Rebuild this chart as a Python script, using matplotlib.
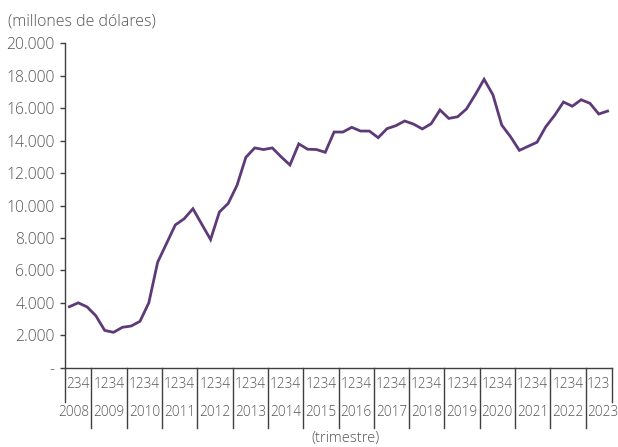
import matplotlib
matplotlib.use("Agg")
import matplotlib.pyplot as plt
from matplotlib.ticker import FuncFormatter

plt.rcParams['font.family'] = ['Open Sans', 'DejaVu Sans']
plt.rcParams['font.weight'] = 'light'

years = list(range(2008, 2024))
quarters_per_year = {2008: [2, 3, 4], 2023: [1, 2, 3]}
values = [3760, 4000, 3750, 3200, 2300, 2180, 2490, 2570, 2860, 4000,
          6500, 7650, 8800, 9180, 9800, 8850, 7900, 9600, 10130, 11250,
          12970, 13550, 13450, 13550, 13000, 12500, 13800, 13470, 13450, 13280,
          14530, 14530, 14820, 14590, 14590, 14180, 14740, 14920, 15210, 15020,
          14720, 15040, 15890, 15370, 15470, 15950, 16830, 17780, 16830, 14960,
          14240, 13400, 13650, 13900, 14860, 15560, 16380, 16120, 16520, 16300,
          15640, 15820]
y_ticks = list(range(0, 20001, 2000))
title = "(millones de dólares)"
xlabel = "(trimestre)"

text_color = "#555555"
axis_color = "#404040"
line_color = "#5E3A78"

fig = plt.figure(figsize=(6.18, 4.47), dpi=100)
ax = fig.add_axes([65/618, 1 - 367.7/447, (612-65)/618, (367.7-43.3)/447])

n = len(values)
xs = list(range(n))
ax.plot(xs, values, color=line_color, linewidth=2.0, solid_joinstyle='miter')
ax.set_xlim(-0.5, n - 0.5)
ax.set_ylim(0, 20000)
ax.set_yticks(y_ticks)

def fmt(v, pos):
    if v == 0:
        return "-"
    return f"{int(v):,}".replace(",", ".")

ax.yaxis.set_major_formatter(FuncFormatter(fmt))
ax.tick_params(axis='y', direction='out', length=3.5, width=1, color=axis_color,
               labelsize=11.3, labelcolor=text_color, pad=4)
ax.set_xticks([])
for s in ['top', 'right']:
    ax.spines[s].set_visible(False)
for s in ['left', 'bottom']:
    ax.spines[s].set_color(axis_color)
    ax.spines[s].set_linewidth(1.0)

trans = ax.get_xaxis_transform()

boundaries = [-0.5]
idx = 0
for yr in years:
    cnt = len(quarters_per_year.get(yr, [1, 2, 3, 4]))
    idx += cnt
    boundaries.append(idx - 0.5)

axh = 367.7 - 43.3
short = (402 - 367.7) / axh
long_ = (427.7 - 367.7) / axh
for j, b in enumerate(boundaries):
    L = short if j in (0, len(boundaries) - 1) else long_
    ax.plot([b, b], [0, -L], transform=trans, color=axis_color, linewidth=1.0,
            clip_on=False)

for j, yr in enumerate(years):
    left, right = boundaries[j], boundaries[j + 1]
    qs = quarters_per_year.get(yr, [1, 2, 3, 4])
    qlabel = "".join(str(q) for q in qs)
    ax.text((left + right) / 2, -(385 - 367.7) / axh, qlabel, transform=trans,
            ha='center', va='center', fontsize=9.8, color=text_color, clip_on=False)
    if yr == years[0]:
        c = right - 2.0
    elif yr == years[-1]:
        c = left + 2.0
    else:
        c = (left + right) / 2
    ax.text(c, -(413 - 367.7) / axh, str(yr), transform=trans, ha='center',
            va='center', fontsize=9.8, color=text_color, clip_on=False)

fig.text(346/618, 1 - 439/447, xlabel, ha='center', va='center',
         fontsize=10.5, color=text_color)
fig.text(8/618, 1 - 21/447, title, ha='left', va='center',
         fontsize=11.5, color=text_color)

fig.savefig("out.png", dpi=100)
